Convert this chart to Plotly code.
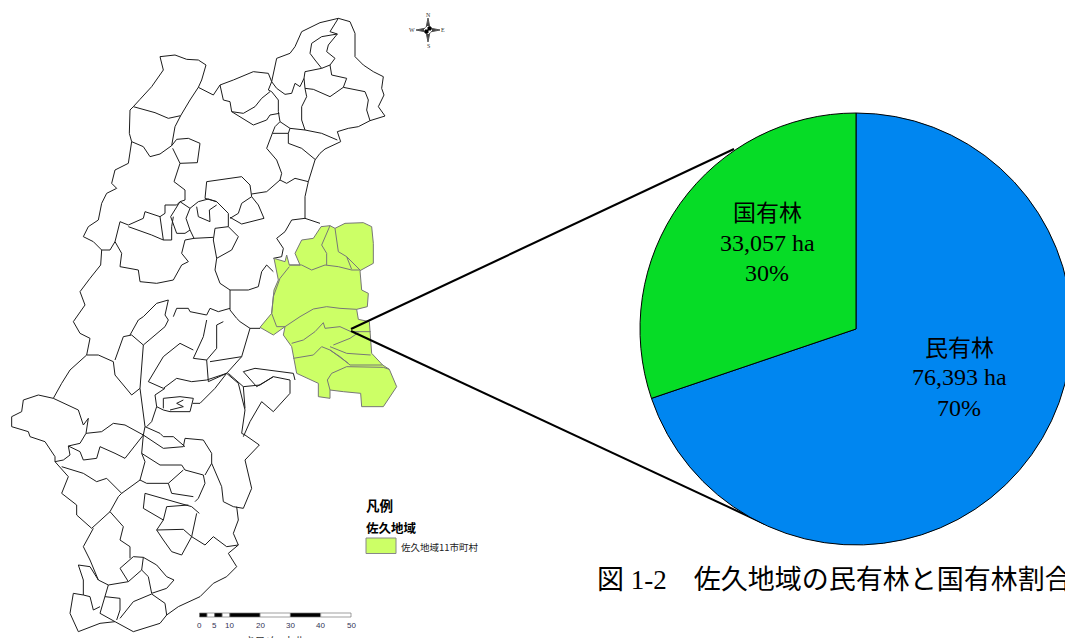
import plotly.graph_objects as go

# ---------- data ----------
OWNERSHIP = ["民有林", "国有林"]
AREA_HA = [76393, 33057]
SHARE_PCT = [70, 30]
OWNERSHIP_COLORS = ["#0086F0", "#06DC26"]

CAPTION = "図 1-2　佐久地域の民有林と国有林割合"
LEGEND_TITLE = "凡例"
LEGEND_GROUP = "佐久地域"
LEGEND_ITEM = "佐久地域11市町村"
SCALE_KM = [0, 2.5, 5, 7.5, 10, 20, 30, 40, 50]
SCALE_LABELS = [0, 5, 10, 20, 30, 40, 50]
SCALE_UNIT = "キロメートル"

# Map boundaries, north sheet (map units)
NORTH = [
 [(815,245),(830,175),(870,160),(885,140),(905,95),(960,68),(1015,55),(1050,65),(1065,100),(1065,170),(1090,195),(1120,215),(1150,230),(1145,265),(1152,285),(1135,320),(1155,348),(1110,362),(1075,380),(1045,385),(1012,395),(1022,425),(975,447),(960,460),(945,480),(935,515),(925,545),(915,590),(915,655)],
 [(1015,55),(990,95),(1012,102),(985,135),(980,155),(1005,175),(990,195),(965,205),(945,180),(930,160),(935,130),(965,110),(1012,102)],
 [(990,195),(995,225),(1040,235),(1030,262),(1095,275),(1105,300),(1100,330),(1110,362)],
 [(965,205),(915,215),(912,235),(900,260),(885,250),(875,280),(855,283),(830,265),(815,245)],
 [(915,265),(940,268),(990,290),(1030,262)],
 [(912,235),(915,265),(920,290),(905,320),(905,360),(915,390)],
 [(480,170),(525,165),(560,178),(595,180),(618,195),(605,240),(595,262),(570,300),(542,347),(505,355),(465,338),(400,320),(420,298),(455,260),(490,210),(480,170)],
 [(595,262),(640,285),(660,255),(700,240),(760,215),(805,220),(815,245),(805,270),(815,275),(835,300),(835,335),(840,365),(870,385),(915,390),(965,400),(1012,420)],
 [(660,255),(670,300),(690,305),(695,335),(730,340),(765,320),(785,295),(810,275)],
 [(695,335),(760,375),(800,360),(810,345),(838,340)],
 [(840,365),(825,380),(817,400),(800,445),(830,480),(845,520),(840,540),(800,575),(755,582)],
 [(817,400),(865,400),(870,385)],
 [(865,400),(865,430),(905,445),(945,478)],
 [(925,545),(885,535),(860,550),(840,540)],
 [(400,320),(390,330),(388,400),(395,425),(385,490),(345,510),(335,550),(350,565),(320,580),(305,610),(295,660),(265,680),(250,710),(280,725),(305,750),(330,750),(345,725),(360,665)],
 [(305,750),(302,795),(270,835),(240,875),(255,915),(225,955),(220,965)],
 [(395,425),(430,440),(450,470),(480,462),(515,437),(525,380),(542,347)],
 [(515,437),(530,418),(565,415),(600,430),(592,488),(540,490),(518,445)],
 [(540,490),(522,545),(555,570),(555,600),(540,605)],
 [(620,545),(690,535),(725,530),(750,555),(755,590),(725,610),(715,640),(690,655)],
 [(620,545),(615,595),(650,605),(685,640),(685,680),(715,710),(695,750),(650,775),(640,720),(645,685),(685,680)],
 [(755,590),(775,615),(792,655),(725,672),(690,652)],
 [(570,625),(595,605),(625,597),(650,605)],
 [(590,620),(595,650),(630,665),(628,630),(650,615)],
 [(570,625),(558,655),(570,690),(582,715),(640,712)],
 [(360,665),(385,675),(430,655),(435,635),(480,650),(495,640),(495,615),(530,615),(540,605),(570,625)],
 [(480,650),(490,720),(515,720),(515,680),(520,650)],
 [(540,605),(512,650),(530,700),(555,700),(570,690)],
 [(385,680),(455,705),(490,720)],
 [(345,725),(365,760),(360,800),(415,810),(420,845),(470,850),(520,840),(545,795),(565,785),(545,760),(555,720),(582,715)],
 [(650,775),(645,810),(660,850),(690,870),(745,870),(775,860),(785,815),(800,795),(820,815)],
 [(690,870),(690,930),(710,955),(720,965)],
 [(415,960),(430,950),(470,910),(505,900),(495,945),(505,960)],
 [(520,950),(530,925),(565,925),(570,935),(620,945),(630,925),(655,935),(690,925)],
 [(915,655),(875,660),(855,695),(830,715),(850,745),(845,770),(820,775)],
 [(915,655),(960,670)],
]

# Map boundaries, south sheet (map units, measured from its own top edge)
SOUTH = [
 [(220,5),(240,40),(270,55),(260,105),(295,105),(340,125)],
 [(260,105),(210,150),(185,190),(160,235)],
 [(160,235),(115,225),(70,240),(65,275),(35,290),(35,320),(85,335),(90,350),(135,365),(165,410),(165,425),(190,420),(210,405)],
 [(160,235),(235,270),(250,315),(265,295),(258,340)],
 [(258,340),(240,370),(205,378),(210,405)],
 [(258,340),(305,335),(340,310),(375,315),(430,345)],
 [(340,125),(345,165),(395,225),(420,205)],
 [(345,120),(370,50),(395,45),(430,75)],
 [(390,45),(415,0)],
 [(430,75),(420,205),(435,320),(430,345)],
 [(430,75),(495,20),(505,0)],
 [(430,345),(375,415),(345,400),(300,380),(290,415),(250,420),(240,395),(205,378)],
 [(165,425),(205,470),(185,520),(230,555),(230,585),(275,625),(330,575),(355,530),(365,520),(420,480)],
 [(185,440),(250,460),(290,485),(320,475),(365,520)],
 [(430,345),(425,400),(435,425),(420,480)],
 [(435,320),(480,340),(490,350),(520,350),(555,380)],
 [(430,345),(490,385),(550,380),(555,355),(610,360),(635,400),(635,430)],
 [(425,400),(480,435),(545,435),(555,450),(610,465),(615,490),(595,535),(585,545)],
 [(635,430),(615,465)],
 [(420,480),(440,490),(505,490),(550,450)],
 [(505,490),(515,520),(580,530)],
 [(435,520),(520,545),(575,560),(598,580)],
 [(435,520),(430,565),(490,600),(500,560),(565,555)],
 [(590,580),(575,650),(545,705),(515,695),(490,660),(470,630),(490,600)],
 [(470,630),(515,630),(550,628),(575,650),(615,675),(640,650),(680,680),(715,675)],
 [(330,575),(370,620),(360,660),(390,680),(390,715)],
 [(635,430),(665,500),(670,545),(700,560),(730,565),(755,505),(735,420),(778,375),(735,345),(725,340),(735,270),(715,190),(680,160)],
 [(710,560),(715,600),(700,640),(715,675),(685,700),(710,740),(680,770),(640,790),(600,830),(535,860),(500,885),(480,910),(400,935),(345,905),(300,910),(235,935),(210,880),(220,820),(250,825),(250,780),(235,735),(270,740),(295,780)],
 [(680,160),(625,185),(620,120),(580,115),(610,50),(620,0)],
 [(680,160),(725,110),(750,25),(720,5)],
 [(680,160),(620,180),(575,185),(530,175),(490,205),(445,185),(490,110),(540,70),(580,90)],
 [(620,120),(650,85),(650,15),(670,5)],
 [(725,110),(630,125)],
 [(495,205),(465,225),(470,260),(490,270),(510,275),(570,275),(580,235),(540,230),(490,235),(490,265)],
 [(645,205),(600,250),(578,250)],
 [(645,205),(680,160)],
 [(470,260),(455,305),(440,320)],
 [(510,270),(550,260),(530,250),(550,240)],
 [(685,160),(730,200),(735,265)],
 [(730,200),(780,195),(820,170),(870,180),(870,220),(820,275),(785,245),(750,305),(730,350)],
 [(730,155),(765,145),(880,160),(885,180)],
 [(730,155),(770,200),(820,170)],
 [(750,25),(780,25),(800,5)],
 [(400,710),(430,712),(470,735),(500,770),(522,780),(500,805),(455,820),(445,770),(425,750),(430,712)],
 [(400,710),(360,745),(385,785),(425,750)],
 [(250,680),(280,625)],
 [(250,680),(270,720),(295,780),(325,795),(385,785)],
 [(325,795),(315,830),(300,880),(345,905)],
 [(315,830),(360,835),(360,870),(350,900)],
 [(360,895),(400,845),(455,822),(495,850),(500,885)],
 [(250,825),(270,830),(280,870),(300,860)],
]

# Saku region (map units, measured from the region's own corner)
SAKU_OUTLINE = [(213,50),(240,47),(255,55),(285,40),(340,38),(365,50),(370,100),(370,160),(330,182),(335,240),(355,250),(352,290),(320,298),(325,328),(358,335),(360,365),(362,395),(365,430),(398,465),(418,478),(440,530),(400,590),(335,590),(332,550),(280,545),(240,540),(240,565),(205,560),(205,520),(140,490),(125,410),(100,375),(105,350),(70,375),(30,352),(65,310),(72,240),(85,210),(72,145),(105,155),(110,135),(118,165),(150,165),(135,130),(155,90),(190,85),(213,50)]
SAKU_INNER = [
 [(118,170),(90,205),(70,260),(65,310),(80,350),(105,350)],
 [(118,165),(155,165),(185,180),(225,165),(265,170),(305,180),(330,180)],
 [(240,47),(215,105),(230,130),(230,165)],
 [(255,55),(265,125),(290,140),(305,178)],
 [(290,140),(330,180)],
 [(105,350),(150,320),(190,297),(230,290),(270,295),(320,298)],
 [(125,400),(160,390),(195,365),(220,338),(225,355),(270,350),(303,365),(362,365)],
 [(130,445),(190,435),(215,410),(240,420),(295,460)],
 [(250,405),(300,385),(325,368)],
 [(240,410),(290,430),(362,435)],
 [(240,420),(270,440),(300,465),(398,465)],
 [(240,540),(232,510),(245,490),(290,470),(400,472),(418,478)],
]

# ---------- layout helpers ----------
FIG_W, FIG_H = 1080, 638
U = 3            # map units per pixel
SOUTH_DY = 960
SAKU_DX, SAKU_DY = 750, 630
LINE = "#1c1c1c"
GREY = "#777777"
SAKU_FILL = "#CCFF66"
JP = "Noto Sans CJK JP"
SERIF = "Liberation Serif, Noto Sans CJK JP"

fig = go.Figure()

def path(pts, dx=0, dy=0, color=LINE, width=1, **kw):
    fig.add_trace(go.Scatter(x=[p[0] + dx for p in pts], y=[p[1] + dy for p in pts],
                             mode="lines", line=dict(color=color, width=width),
                             hoverinfo="skip", showlegend=False, **kw))

for seg in NORTH:
    path(seg)
for seg in SOUTH:
    path(seg, dy=SOUTH_DY)
path(SAKU_OUTLINE, SAKU_DX, SAKU_DY, color=GREY, fill="toself", fillcolor=SAKU_FILL)
for seg in SAKU_INNER:
    path(seg, SAKU_DX, SAKU_DY, color=GREY)

# leader lines
path([(351*U, 329*U), (734*U, 149*U)], color="#000000", width=2)
path([(351*U, 331*U), (765*U, 524*U)], color="#000000", width=2)

# compass
cx, cy = 428*U, 30*U
STAR = [(0,-36),(6,-6),(36,0),(6,6),(0,36),(-6,6),(-36,0),(-6,-6),(0,-36)]
path([(cx+a, cy+b) for a, b in STAR], color="#555555", fill="toself", fillcolor="#444444")
path([(cx,cy-12),(cx+12,cy),(cx,cy+12),(cx-12,cy),(cx,cy-12)], color="#ffffff", fill="toself", fillcolor="#ffffff")
path([(cx,cy-9),(cx+9,cy-9),(cx+9,cy),(cx,cy),(cx,cy-9)], color="#000000", fill="toself", fillcolor="#000000")
path([(cx,cy),(cx-9,cy),(cx-9,cy+9),(cx,cy+9),(cx,cy)], color="#000000", fill="toself", fillcolor="#000000")

# pie
fig.add_trace(go.Pie(labels=OWNERSHIP, values=AREA_HA, sort=False, direction="clockwise",
                     rotation=0, textinfo="none", hoverinfo="skip", showlegend=False,
                     marker=dict(colors=OWNERSHIP_COLORS, line=dict(color="#000000", width=1)),
                     domain=dict(x=[640/FIG_W, 1072/FIG_W], y=[1-545/FIG_H, 1-113/FIG_H])))

def text(x, y, s, size, family=SERIF, anchor="center", color="#000000", bold=False, yanchor="middle"):
    fig.add_annotation(x=x/FIG_W, y=1-y/FIG_H, xref="paper", yref="paper", text=f"<b>{s}</b>" if bold else s,
                       showarrow=False, xanchor=anchor, yanchor=yanchor, borderpad=0, borderwidth=0,
                       font=dict(family=family, size=size, color=color))

PIE_LABEL_POS = [(959, 346, 377, 408), (767, 211, 243, 273)]
for name, ha, pct, (x, y1, y2, y3) in zip(OWNERSHIP, AREA_HA, SHARE_PCT, PIE_LABEL_POS):
    text(x, y1, name, 23, JP)
    text(x, y2, f"{ha:,} ha", 24)
    text(x, y3, f"{pct}%", 24)

text(597, 580, CAPTION, 27, anchor="left")

# compass letters
for s, x, y in [("N",428,15),("S",428,46),("W",412,30),("E",443,30)]:
    text(x, y, s, 6, "Liberation Serif", color="#333333")

# map legend
text(366, 505, LEGEND_TITLE, 13.5, JP, anchor="left", bold=True)
text(366, 527, LEGEND_GROUP, 12.5, JP, anchor="left", bold=True)
text(401, 547, LEGEND_ITEM, 9.5, JP, anchor="left", color="#222222")
shapes = [dict(type="rect", xref="x", yref="y", x0=366*U, x1=396*U, y0=538*U, y1=553.5*U,
               fillcolor=SAKU_FILL, line=dict(color="#888888", width=1))]

# scale bar
X0, PX_KM = 199.5, (351 - 199.5) / 50
for i in range(len(SCALE_KM) - 1):
    shapes.append(dict(type="rect", xref="x", yref="y",
                       x0=(X0 + SCALE_KM[i]*PX_KM)*U, x1=(X0 + SCALE_KM[i+1]*PX_KM)*U,
                       y0=613*U, y1=617*U,
                       fillcolor="#000000" if i % 2 == 0 and SCALE_KM[i] != 20 and SCALE_KM[i] != 40 or SCALE_KM[i] == 30 else "#ffffff",
                       line=dict(color="#777777", width=0.7)))
for km in SCALE_LABELS:
    text(X0 + km*PX_KM, 625, str(km), 8, "Liberation Sans", color="#333355")
text(275, 632, SCALE_UNIT, 10, JP, color="#333333", yanchor="top")

fig.update_layout(
    width=FIG_W, height=FIG_H, autosize=False,
    margin=dict(l=0, r=0, t=0, b=0, pad=0),
    paper_bgcolor="#ffffff", plot_bgcolor="#ffffff",
    showlegend=False, shapes=shapes, hovermode=False,
    xaxis=dict(range=[0, FIG_W*U], visible=False, fixedrange=True),
    yaxis=dict(range=[FIG_H*U, 0], visible=False, fixedrange=True),
)

fig.write_html("out.html", config=dict(displayModeBar=False, responsive=False),
               post_script="document.body.style.margin='0';document.body.style.overflow='hidden';document.documentElement.style.overflow='hidden';")
